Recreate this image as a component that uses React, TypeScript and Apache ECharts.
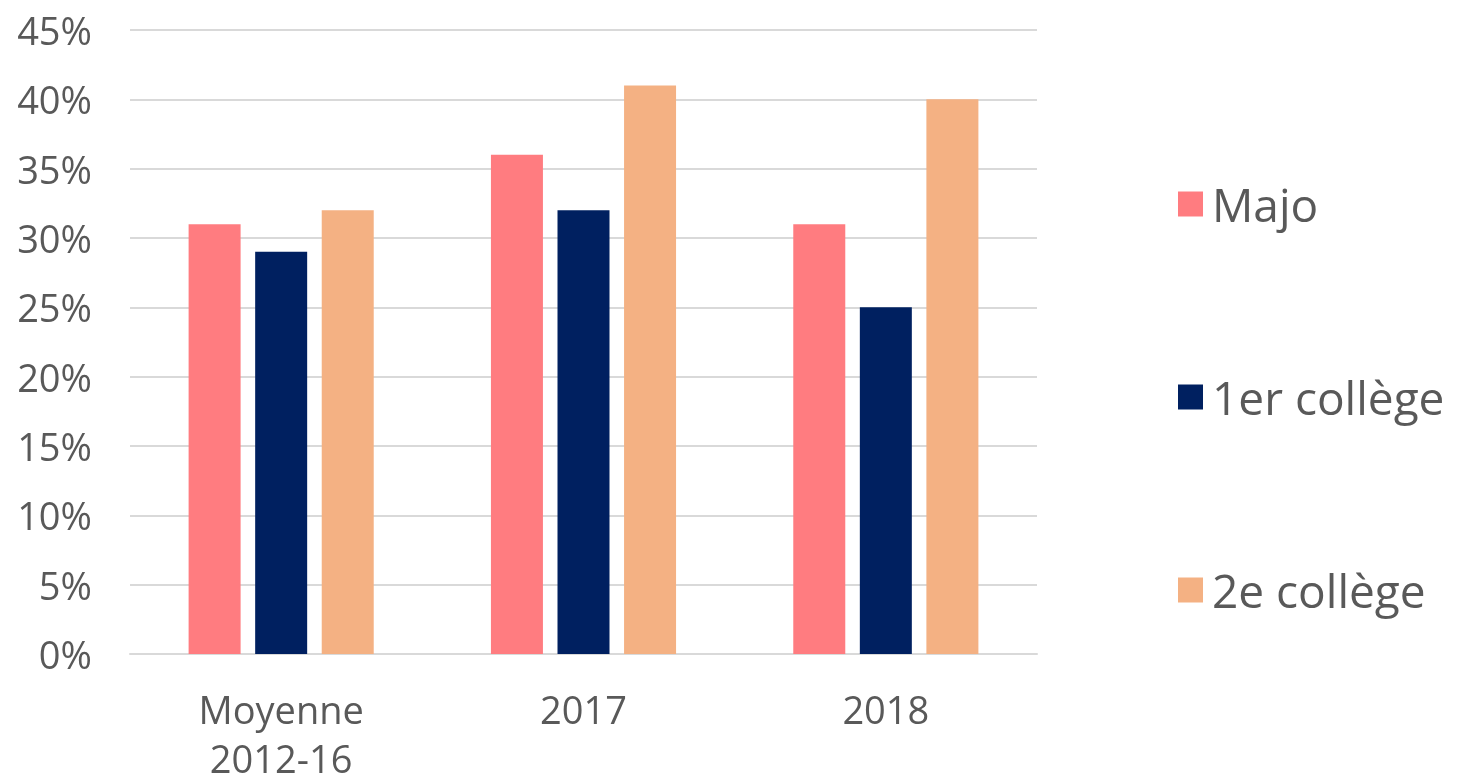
import React, { useEffect, useRef } from "react";
import * as echarts from "echarts";

const categories = ["Moyenne\n2012-16", "2017", "2018"];
const seriesNames = ["Majo", "1er collège", "2e collège"];
const majo = [31, 36, 31];
const college1 = [29, 32, 25];
const college2 = [32, 41, 40];
const colors = ["#FF7C80", "#002060", "#F4B183"];

const FONT = "'Open Sans', 'Noto Sans', sans-serif";
const TEXT = "#595959";

export default function App() {
  const ref = useRef<HTMLDivElement>(null);
  useEffect(() => {
    if (!ref.current) return;
    const chart = echarts.init(ref.current, undefined, { renderer: "svg" });
    const values = [majo, college1, college2];
    chart.setOption({
      animation: false,
      textStyle: { fontFamily: FONT },
      grid: { left: 130, right: 424, top: 30, bottom: 121, containLabel: false },
      legend: {
        orient: "vertical",
        left: 1173,
        top: 176,
        itemWidth: 25,
        itemHeight: 25,
        itemGap: 147,
        icon: "rect",
        data: seriesNames,
        textStyle: {
          fontFamily: FONT,
          fontSize: 46,
          lineHeight: 46,
          color: TEXT,
          padding: [0, 0, 0, 4],
        },
      },
      xAxis: {
        type: "category",
        data: categories,
        axisLine: { lineStyle: { color: "#d9d9d9", width: 2 } },
        axisTick: { show: false },
        axisLabel: {
          color: TEXT,
          fontFamily: FONT,
          fontSize: 38,
          lineHeight: 49,
          margin: 30,
        },
      },
      yAxis: {
        type: "value",
        min: 0,
        max: 45,
        interval: 5,
        axisLine: { show: false },
        axisTick: { show: false },
        splitLine: { lineStyle: { color: "#d9d9d9", width: 2 } },
        axisLabel: {
          formatter: "{value}%",
          color: TEXT,
          fontFamily: FONT,
          fontSize: 38,
          margin: 38,
        },
      },
      series: seriesNames.map((name, i) => ({
        name,
        type: "bar",
        data: values[i],
        barWidth: 52,
        barGap: "28%",
        itemStyle: { color: colors[i] },
      })),
    });
    return () => chart.dispose();
  }, []);
  return (
    <div
      ref={ref}
      style={{ position: "fixed", left: 0, top: 0, width: 1461, height: 782 }}
    />
  );
}
